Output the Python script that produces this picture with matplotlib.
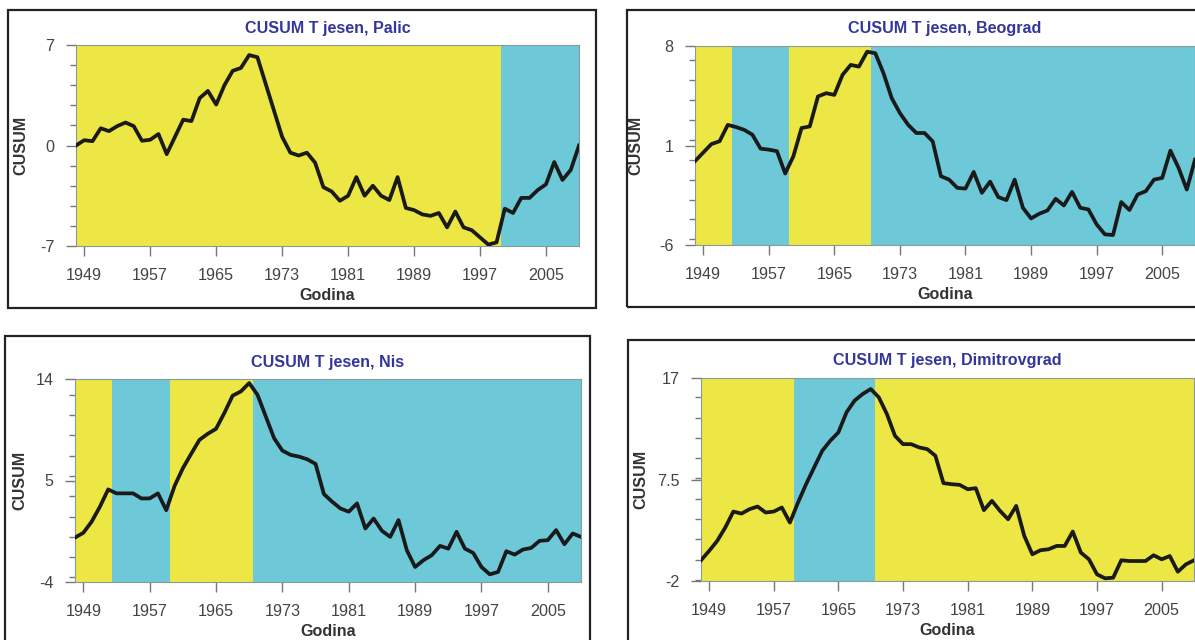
import matplotlib
matplotlib.use('Agg')
import matplotlib.pyplot as plt
from matplotlib.patches import Rectangle
from matplotlib.ticker import MultipleLocator

plt.rcParams['font.family'] = ['Liberation Sans', 'DejaVu Sans']

# Years of the series
years = list(range(1948, 2010))

# CUSUM values
palic = [0.0, 0.37, 0.3, 1.2, 1.0, 1.35, 1.6, 1.35, 0.33, 0.4,
         0.8, -0.6, 0.6, 1.8, 1.7, 3.3, 3.8, 2.85, 4.2, 5.2,
         5.4, 6.3, 6.15, 4.3, 2.45, 0.6, -0.5, -0.7, -0.5, -1.2,
         -2.9, -3.2, -3.85, -3.5, -2.2, -3.5, -2.8, -3.5, -3.8, -2.2,
         -4.35, -4.5, -4.8, -4.9, -4.7, -5.7, -4.6, -5.7, -5.9, -6.4,
         -6.9, -6.75, -4.4, -4.7, -3.65, -3.65, -3.1, -2.7, -1.15, -2.4,
         -1.7, 0.0]
beograd = [-0.1, 0.5, 1.1, 1.3, 2.45, 2.3, 2.1, 1.76, 0.78, 0.71,
           0.6, -0.97, 0.24, 2.23, 2.34, 4.45, 4.68, 4.56, 5.97, 6.67,
           6.55, 7.6, 7.49, 6.08, 4.33, 3.28, 2.46, 1.88, 1.88, 1.29,
           -1.16, -1.4, -1.98, -2.03, -0.86, -2.33, -1.54, -2.63, -2.84, -1.4,
           -3.38, -4.13, -3.8, -3.57, -2.75, -3.22, -2.26, -3.38, -3.5, -4.55,
           -5.25, -5.3, -2.98, -3.54, -2.45, -2.21, -1.4, -1.28, 0.64, -0.58,
           -2.1, 0.0]
nis = [-0.06, 0.36, 1.34, 2.67, 4.21, 3.86, 3.86, 3.86, 3.41, 3.41,
       3.86, 2.37, 4.51, 6.08, 7.36, 8.6, 9.14, 9.58, 10.98, 12.52,
       12.9, 13.64, 12.6, 10.68, 8.75, 7.65, 7.27, 7.12, 6.88, 6.47,
       3.8, 3.12, 2.52, 2.23, 2.97, 0.74, 1.63, 0.54, 0.0, 1.49,
       -1.18, -2.67, -2.07, -1.63, -0.8, -1.04, 0.45, -1.04, -1.42, -2.67,
       -3.32, -3.11, -1.27, -1.57, -1.12, -0.98, -0.35, -0.29, 0.6, -0.65,
       0.3, 0.0]
dimitrovgrad = [-0.06, 0.81, 1.75, 3.0, 4.5, 4.31, 4.72, 4.97, 4.41, 4.5,
                4.88, 3.47, 5.34, 7.06, 8.63, 10.19, 11.13, 11.91, 13.78, 14.88,
                15.5, 15.97, 15.19, 13.63, 11.59, 10.81, 10.81, 10.5, 10.34, 9.72,
                7.16, 7.06, 7.0, 6.59, 6.69, 4.63, 5.5, 4.56, 3.78, 5.03,
                2.22, 0.5, 0.88, 0.97, 1.28, 1.28, 2.63, 0.66, 0.03, -1.38,
                -1.75, -1.69, -0.06, -0.13, -0.13, -0.13, 0.41, 0.03, 0.34, -1.13,
                -0.44, -0.06]

# Regime boundaries and the colour of each regime
palic_bounds = [1948, 1999.5, 2009]
palic_regimes = ['y', 'c']
beograd_bounds = [1948, 1952.5, 1959.5, 1969.5, 2009]
beograd_regimes = ['y', 'c', 'y', 'c']
nis_bounds = [1948, 1952.5, 1959.5, 1969.5, 2009]
nis_regimes = ['y', 'c', 'y', 'c']
dimitrovgrad_bounds = [1948, 1959.5, 1969.5, 2009]
dimitrovgrad_regimes = ['y', 'c', 'y']

# Axis tick values
palic_yticks = [-7, 0, 7]
beograd_yticks = [-6, 1, 8]
nis_yticks = [-4, 5, 14]
dimitrovgrad_yticks = [-2, 7.5, 17]
xtick_years = [1949, 1957, 1965, 1973, 1981, 1989, 1997, 2005]

yellow = '#ECE744'
cyan = '#6DC9D8'
title_color = '#34369A'
regime_color = {'y': yellow, 'c': cyan}
fs = 11.6

W, H = 1195, 640
fig = plt.figure(figsize=(W / 100, H / 100), dpi=100)
fig.patch.set_facecolor('white')


def px_rect(x0, y0, x1, y1):
    # pixel box (top-left origin) -> figure fraction [left, bottom, width, height]
    return [x0 / W, 1 - y1 / H, (x1 - x0) / W, (y1 - y0) / H]


def panel(box, frame, name, values, bounds, regimes, yticks, ylab_off):
    # frame around the whole panel
    fx0, fy0, fx1, fy1 = px_rect(*frame)
    fig.add_artist(Rectangle((fx0, fy0), fx1, fy1, transform=fig.transFigure,
                             fill=False, edgecolor='#222222', linewidth=1.6))
    ax = fig.add_axes(px_rect(*box))
    for i, r in enumerate(regimes):
        ax.axvspan(bounds[i], bounds[i + 1], color=regime_color[r], lw=0, zorder=0)
    ax.plot(years, values, color='#1a1a1a', linewidth=2.7, zorder=3,
            solid_joinstyle='round')
    ax.set_xlim(bounds[0], bounds[-1])
    ax.set_ylim(yticks[0], yticks[-1])
    ax.set_yticks(yticks)
    ax.set_yticklabels([('%g' % v) for v in yticks])
    ax.yaxis.set_minor_locator(MultipleLocator((yticks[1] - yticks[0]) / 5))
    ax.set_xticks(xtick_years)
    ax.tick_params(axis='both', which='major', direction='out', length=7,
                   width=1.0, color='#777777', labelsize=fs, labelcolor='#444444',
                   pad=8.5)
    ax.tick_params(axis='y', which='minor', direction='out', length=4,
                   width=1.0, color='#777777')
    for s in ax.spines.values():
        s.set_color('#8a9a9a')
        s.set_linewidth(0.8)
    ax.set_title(name, fontsize=fs, fontweight='bold', color=title_color, pad=9)
    ax.set_xlabel('Godina', fontsize=fs, fontweight='bold', color='#333333',
                  labelpad=4)
    ax.set_ylabel('CUSUM', fontsize=fs, fontweight='bold', color='#333333')
    ax.yaxis.set_label_coords(ylab_off / (box[2] - box[0]), 0.5)
    return ax


panel((76, 45, 579, 246), (8, 10, 596, 308), 'CUSUM T jesen, Palic',
      palic, palic_bounds, palic_regimes, palic_yticks, -48)
panel((695, 46, 1195, 245), (627, 10, 1205, 307), 'CUSUM T jesen, Beograd',
      beograd, beograd_bounds, beograd_regimes, beograd_yticks, -52)
panel((75, 379, 581, 582), (5, 336, 590, 650), 'CUSUM T jesen, Nis',
      nis, nis_bounds, nis_regimes, nis_yticks, -48)
panel((701, 378, 1194, 581), (628, 340, 1205, 650), 'CUSUM T jesen, Dimitrovgrad',
      dimitrovgrad, dimitrovgrad_bounds, dimitrovgrad_regimes, dimitrovgrad_yticks, -53)

plt.savefig('out.png', dpi=100)
